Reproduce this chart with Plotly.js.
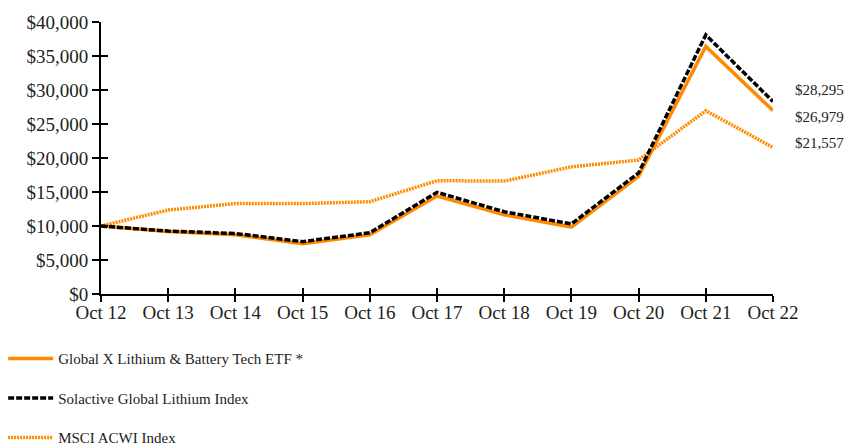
<!DOCTYPE html>
<html><head><meta charset="utf-8">
<script src="https://cdn.plot.ly/plotly-3.0.1.min.js"></script>
<style>body{margin:0}#c{width:859px;height:445px}</style>
</head><body><div id="c"></div>
<script>
var categories = ["Oct 12","Oct 13","Oct 14","Oct 15","Oct 16","Oct 17","Oct 18","Oct 19","Oct 20","Oct 21","Oct 22"];
var etfValues = [10000, 9200, 8700, 7400, 8700, 14400, 11650, 9850, 17300, 36400, 26979];
var solactiveValues = [10000, 9250, 8900, 7700, 9000, 14950, 12100, 10300, 17800, 38100, 28295];
var msciValues = [10000, 12350, 13300, 13300, 13570, 16660, 16600, 18700, 19700, 26950, 21557];
var seriesNames = ["Global X Lithium & Battery Tech ETF *","Solactive Global Lithium Index","MSCI ACWI Index"];
var yTickVals = [0,5000,10000,15000,20000,25000,30000,35000,40000];
var yTickText = ["$0","$5,000","$10,000","$15,000","$20,000","$25,000","$30,000","$35,000","$40,000"];
var endLabels = ["$28,295","$26,979","$21,557"];

var orange = "#FF8A00";
var fam = "Liberation Serif, Times New Roman, serif";
var font = {family:fam, size:15, color:"#222"};
var tickFont = {family:fam, size:19, color:"#222"};
var xIdx = categories.map(function(_,i){return i;});

var msci = {x:xIdx, y:msciValues, name:seriesNames[2], mode:"lines", line:{color:orange,width:3.5,dash:"2px,1px"}, legendgroup:"c", legendrank:3};
var etf = {x:xIdx, y:etfValues, name:seriesNames[0], mode:"lines", line:{color:orange,width:3.5}, legendgroup:"a", legendrank:1};
var sol = {x:xIdx, y:solactiveValues, name:seriesNames[1], mode:"lines", line:{color:"#000",width:3.5,dash:"6px,2px"}, legendgroup:"b", legendrank:2};
var dummy = {x:[0], y:[0], xaxis:"x2", yaxis:"y2", showlegend:false, hoverinfo:"skip", mode:"markers", marker:{opacity:0}};
var traces = [msci, etf, sol, dummy];

var endVals = [solactiveValues[10], etfValues[10], msciValues[10]];
var shifts = [12, -6, 4];
var annotations = endLabels.map(function(t,i){
  return {x:10, y:endVals[i], xref:"x", yref:"y", text:t, showarrow:false, xanchor:"left", yanchor:"middle", xshift:20, yshift:shifts[i], font:{family:fam, size:15, color:"#222"}};
});

var layout = {
  width:859, height:445,
  margin:{l:101, r:86, t:22, b:151, autoexpand:false},
  paper_bgcolor:"#fff", plot_bgcolor:"#fff",
  font:font,
  showlegend:true,
  legend:{x:-0.1456, y:-0.177, xanchor:"left", yanchor:"top", orientation:"v", tracegroupgap:17, font:font, itemwidth:45, traceorder:"grouped"},
  xaxis:{range:[0,10], automargin:false, tickvals:xIdx, ticktext:categories, showgrid:false, zeroline:false, showline:true, linecolor:"#000", linewidth:2, ticks:"outside", ticklen:6, tickwidth:2, tickcolor:"#000", tickfont:tickFont, ticklabelstandoff:-6, fixedrange:true},
  yaxis:{range:[0,40000], automargin:false, tickvals:yTickVals, ticktext:yTickText, showgrid:false, zeroline:false, showline:true, linecolor:"#000", linewidth:2, ticks:"outside", ticklen:7, tickwidth:2, tickcolor:"#000", tickfont:tickFont, fixedrange:true},
  xaxis2:{overlaying:"x", automargin:false, range:[0,10], tickvals:xIdx, showticklabels:false, showgrid:false, zeroline:false, ticks:"inside", ticklen:6, tickwidth:2, tickcolor:"#000", anchor:"y2"},
  yaxis2:{overlaying:"y", automargin:false, range:[0,40000], tickvals:yTickVals, showticklabels:false, showgrid:false, zeroline:false, ticks:"inside", ticklen:7, tickwidth:2, tickcolor:"#000", anchor:"x2"},
  annotations:annotations
};
Plotly.newPlot("c", traces, layout, {staticPlot:true, displayModeBar:false});
</script></body></html>
